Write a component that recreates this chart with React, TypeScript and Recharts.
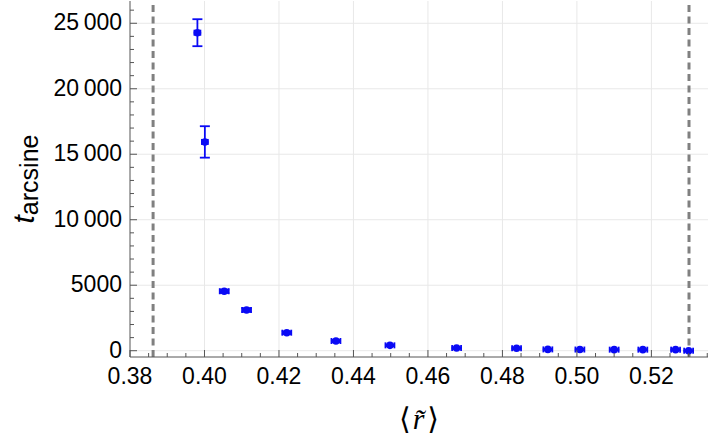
import React from 'react';
import { ScatterChart, Scatter, XAxis, YAxis, ErrorBar, ReferenceLine } from 'recharts';

// data
const rMean = [0.3981, 0.4001, 0.4053, 0.4113, 0.4221, 0.4353, 0.4498, 0.4677, 0.4838, 0.4922, 0.5008, 0.51, 0.5177, 0.5265, 0.53];
const tArcsine = [24280, 15940, 4540, 3110, 1375, 740, 410, 205, 190, 100, 90, 80, 80, 80, 0];
const tErr = [1030, 1200, 130, 140, 100, 80, 60, 50, 50, 40, 40, 30, 30, 30, 20];
const rErr = [0.0008, 0.0008, 0.0012, 0.0012, 0.0012, 0.0012, 0.0012, 0.0012, 0.0012, 0.0012, 0.0012, 0.0012, 0.0012, 0.0012, 0.0012];
const criticalR = [0.3862, 0.5301];

const xTicks = [0.38, 0.385, 0.39, 0.395, 0.4, 0.405, 0.41, 0.415, 0.42, 0.425, 0.43, 0.435, 0.44, 0.445, 0.45, 0.455, 0.46, 0.465, 0.47, 0.475, 0.48, 0.485, 0.49, 0.495, 0.5, 0.505, 0.51, 0.515, 0.52, 0.525, 0.53, 0.535];
const xMajor = [0.38, 0.4, 0.42, 0.44, 0.46, 0.48, 0.5, 0.52];
const yTicks = [0, 1000, 2000, 3000, 4000, 5000, 6000, 7000, 8000, 9000, 10000, 11000, 12000, 13000, 14000, 15000, 16000, 17000, 18000, 19000, 20000, 21000, 22000, 23000, 24000, 25000, 26000];
const yMajor = [0, 5000, 10000, 15000, 20000, 25000];

const xDomain = [0.38, 0.5352];
const yDomain = [-480, 26700];

const AXIS = '#555555';
const GRID = '#e8e8e8';
const BLUE = '#0a0af5';
const FONT = '"Liberation Sans", Arial, sans-serif';

const data = rMean.map((r, i) => ({ r, t: tArcsine[i], tErr: tErr[i], rErr: rErr[i] }));

const isMajorX = (v: number) => xMajor.some((m) => Math.abs(m - v) < 1e-6);
const isMajorY = (v: number) => yMajor.includes(v);
const fmtY = (v: number) => (v >= 10000 ? `${Math.floor(v / 1000)}\u2009000` : `${v}`);

const BottomTick = (p: any) => {
  const v = p.payload.value;
  const major = isMajorX(v);
  return (
    <g>
      <line x1={p.x} y1={p.y} x2={p.x} y2={p.y - (major ? 7 : 4)} stroke={AXIS} strokeWidth={1} />
      {major && (
        <text x={p.x} y={p.y + 11} dy="0.71em" textAnchor="middle" fontSize={23} fontFamily={FONT} fill="#000">
          {v.toFixed(2)}
        </text>
      )}
    </g>
  );
};
const TopTick = (p: any) => {
  const major = isMajorX(p.payload.value);
  return <line x1={p.x} y1={p.y} x2={p.x} y2={p.y + (major ? 7 : 4)} stroke={AXIS} strokeWidth={1} />;
};
const LeftTick = (p: any) => {
  const v = p.payload.value;
  const major = isMajorY(v);
  return (
    <g>
      <line x1={p.x} y1={p.y} x2={p.x + (major ? 7 : 4)} y2={p.y} stroke={AXIS} strokeWidth={1} />
      {major && (
        <text x={p.x - 8} y={p.y} dy="0.31em" textAnchor="end" fontSize={23} fontFamily={FONT} fill="#000">
          {fmtY(v)}
        </text>
      )}
    </g>
  );
};
const RightTick = (p: any) => {
  const major = isMajorY(p.payload.value);
  return <line x1={p.x} y1={p.y} x2={p.x - (major ? 7 : 4)} y2={p.y} stroke={AXIS} strokeWidth={1} />;
};

const XLabel = (props: any) => {
  const vb = props.viewBox || {};
  const cx = vb.x + vb.width / 2;
  return (
    <text x={cx} y={vb.y + 72} textAnchor="middle" fontSize={30} fontFamily='"Liberation Serif", "DejaVu Serif", serif' fill="#000">
      <tspan>⟨</tspan>
      <tspan fontStyle="italic" dx={2}>r̃</tspan>
      <tspan dx={3}>⟩</tspan>
    </text>
  );
};

const YLabel = (props: any) => {
  const vb = props.viewBox || {};
  const cy = vb.y + vb.height / 2;
  return (
    <text transform={`translate(34,${cy}) rotate(-90)`} textAnchor="middle" fontFamily={FONT} fill="#000">
      <tspan fontStyle="italic" fontSize={30}>t</tspan>
      <tspan fontSize={25} dy={4}>arcsine</tspan>
    </text>
  );
};

const Dot = (p: any) => <circle cx={p.cx} cy={p.cy} r={3.8} fill={BLUE} />;

export default function App() {
  return (
    <div style={{ position: 'absolute', left: 0, top: 0, width: 710, height: 445, background: '#fff' }}>
      <ScatterChart width={710} height={445} margin={{ top: 1, right: 2, bottom: 8, left: 0 }}>
        <XAxis
          xAxisId="b"
          dataKey="r"
          type="number"
          orientation="bottom"
          domain={xDomain}
          allowDataOverflow
          ticks={xTicks}
          interval={0}
          height={80}
          tickSize={0}
          tickMargin={0}
          tickLine={false}
          tick={BottomTick}
          axisLine={{ stroke: AXIS }}
          label={{ content: XLabel }}
        />
        <XAxis
          xAxisId="t"
          dataKey="r"
          type="number"
          orientation="top"
          domain={xDomain}
          allowDataOverflow
          ticks={xTicks}
          interval={0}
          height={0}
          tickSize={0}
          tickMargin={0}
          tickLine={false}
          tick={TopTick}
          axisLine={{ stroke: AXIS }}
        />
        <YAxis
          yAxisId="l"
          dataKey="t"
          type="number"
          orientation="left"
          domain={yDomain}
          allowDataOverflow
          ticks={yTicks}
          interval={0}
          width={130}
          tickSize={0}
          tickMargin={0}
          tickLine={false}
          tick={LeftTick}
          axisLine={{ stroke: AXIS }}
          label={{ content: YLabel }}
        />
        <YAxis
          yAxisId="r"
          dataKey="t"
          type="number"
          orientation="right"
          domain={yDomain}
          allowDataOverflow
          ticks={yTicks}
          interval={0}
          width={0}
          tickSize={0}
          tickMargin={0}
          tickLine={false}
          tick={RightTick}
          axisLine={{ stroke: AXIS }}
        />
        {xMajor.slice(1).map((v) => (
          <ReferenceLine key={`gx${v}`} xAxisId="b" yAxisId="l" x={v} stroke={GRID} strokeWidth={1} />
        ))}
        {yMajor.map((v) => (
          <ReferenceLine key={`gy${v}`} xAxisId="b" yAxisId="l" y={v} stroke={GRID} strokeWidth={1} />
        ))}
        {criticalR.map((v) => (
          <ReferenceLine key={`c${v}`} xAxisId="b" yAxisId="l" x={v} stroke="#808080" strokeWidth={3} strokeDasharray="7 4.5" />
        ))}
        <Scatter data={data} dataKey="t" xAxisId="b" yAxisId="l" fill={BLUE} shape={Dot} isAnimationActive={false}>
          <ErrorBar dataKey="tErr" direction="y" width={5} stroke={BLUE} strokeWidth={1.8} isAnimationActive={false} />
          <ErrorBar dataKey="rErr" direction="x" width={3} stroke={BLUE} strokeWidth={1.8} isAnimationActive={false} />
        </Scatter>
      </ScatterChart>
    </div>
  );
}
